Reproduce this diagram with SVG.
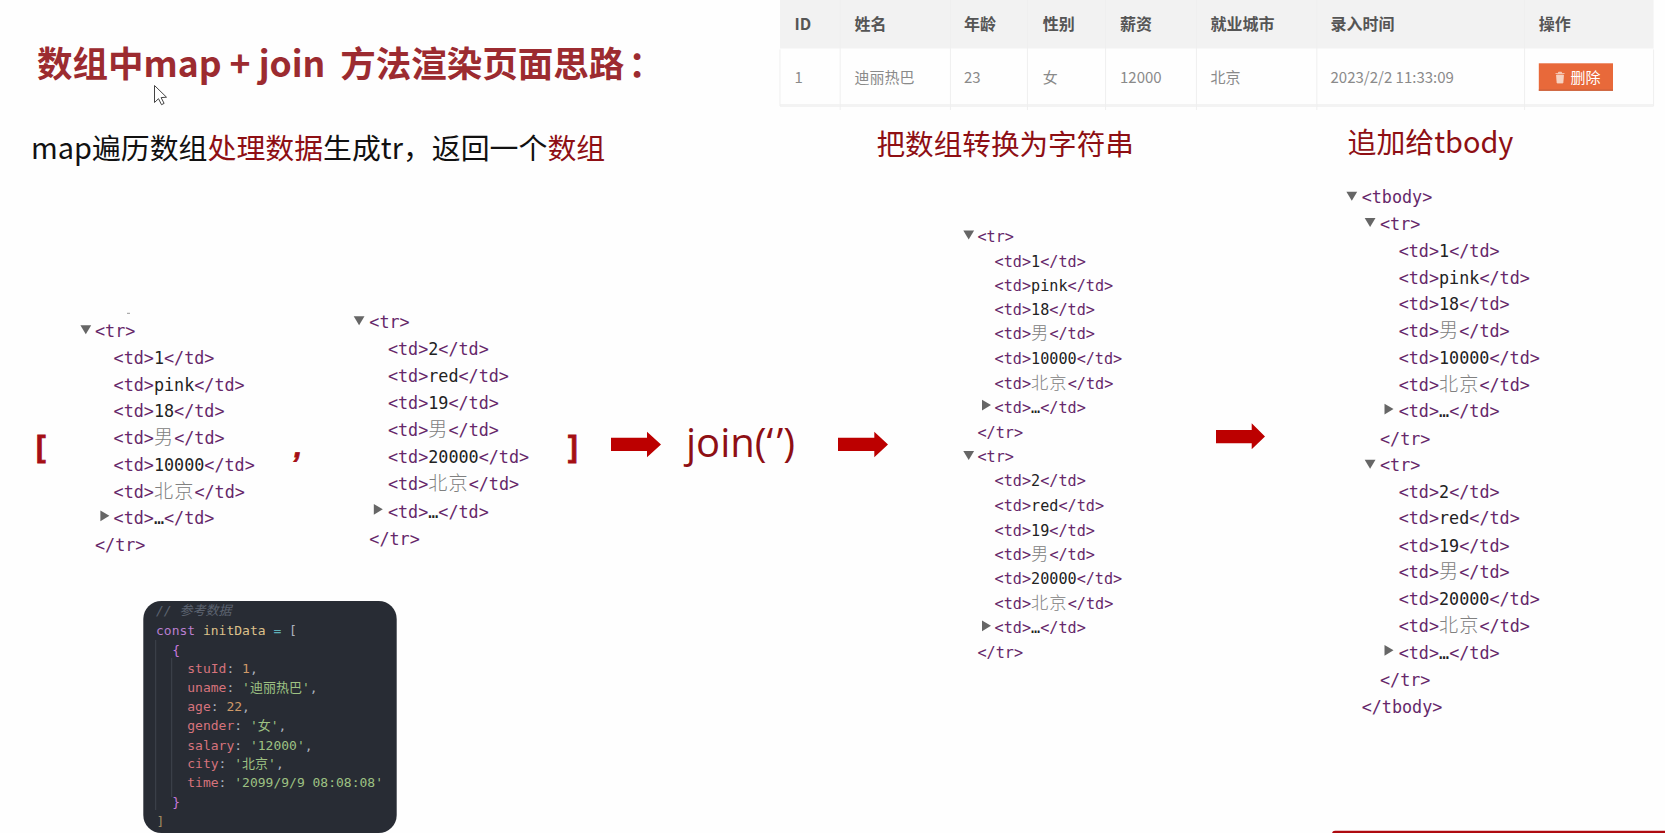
<svg xmlns="http://www.w3.org/2000/svg" width="1665" height="833" viewBox="0 0 1665 833">
<style>
text{white-space:pre}
.s{font-family:"Noto Sans CJK SC","Noto Sans",sans-serif}
.m{font-family:"DejaVu Sans Mono","Noto Sans CJK SC",monospace;fill:#66286a}
.f1{font-size:16.75px}.f2{font-size:15.15px}
.v{fill:#222}
.c{fill:#808080;font-size:1.14em;letter-spacing:.06em;font-family:"Noto Sans CJK SC",sans-serif;font-weight:300}
.r{fill:#8e0f14}
.arrow{fill:#bc0000}
.tri{fill:#666}
.th{font-size:16px;font-weight:700;fill:#555}
.td{font-size:15px;fill:#8a8a8a}
.ln{stroke:#efefef;stroke-width:1;fill:none}
.k{font-family:"DejaVu Sans Mono","Noto Sans CJK SC",monospace;font-size:13px;fill:#abb2bf}
.cm{fill:#5c6370;font-style:italic}.kw{fill:#b87fd0}.id{fill:#dcc08a}.op{fill:#5fb0b8}.br{fill:#c678dd}
.ky{fill:#d6737c}.nu{fill:#cf9a68}.st{fill:#9ec283}
.bk{font-family:"Liberation Sans",sans-serif;font-weight:700;font-size:29px;fill:#a50f14;stroke:#a50f14;stroke-width:.8}
</style>
<defs>
<polygon id="d" class="tri" points="-.3,0 10.500,0 5.100,9"/>
<polygon id="rt" class="tri" points="0,-.3 9,5 0,10.500"/>
</defs>
<rect width="1665" height="833" fill="#fefefe"/>

<g id="title">
<text class="s" x="37" y="77" font-size="35.5" font-weight="700" fill="#9c2b30">数组中map + join <tspan dx="7">方法渲染页面思路</tspan><tspan dx="4">：</tspan></text>
<path d="M154.500 85.500v17l4-3.800 3 6 2.600-1.300-3-5.800 5.400-.4z" fill="#fff" stroke="#444" stroke-width="1"/>
</g>
<g id="subtitle">
<text class="s" x="31" y="159" font-size="28.900" fill="#111">map遍历数组<tspan class="r">处理数据</tspan>生成tr，返回一个<tspan class="r">数组</tspan></text>
</g>

<g id="table">
<rect x="780" y="0" width="873.600" height="48.500" fill="#f2f2f2"/>
<rect x="780" y="104" width="873.600" height="3" fill="#f3f3f3"/>
<path class="ln" d="M840.200 0V110M950.400 0V110M1027.400 0V110M1105.600 0V110M1196.400 0V110M1316.800 0V110M1524.600 0V110M780 49.500V106M1653.600 49.500V106"/>
<g class="s">
<text class="th" x="794.500" y="29.500">ID</text>
<text class="th" x="854.500" y="29.500">姓名</text>
<text class="th" x="964" y="29.500">年龄</text>
<text class="th" x="1042.800" y="29.500">性别</text>
<text class="th" x="1120" y="29.500">薪资</text>
<text class="th" x="1210.600" y="29.500">就业城市</text>
<text class="th" x="1330.500" y="29.500">录入时间</text>
<text class="th" x="1538.800" y="29.500">操作</text>
<text class="td" x="794.500" y="83">1</text>
<text class="td" x="854.500" y="83">迪丽热巴</text>
<text class="td" x="964" y="83">23</text>
<text class="td" x="1042.800" y="83">女</text>
<text class="td" x="1120" y="83">12000</text>
<text class="td" x="1210.600" y="83">北京</text>
<text class="td" x="1330.500" y="83">2023/2/2 11:33:09</text>
</g>
<rect x="1538.800" y="63.300" width="74.200" height="27.400" fill="#e8693a"/>
<rect x="1538.800" y="89.500" width="74.200" height="1.300" fill="#c9603a"/>
<path d="M1555.500 73.500h9M1558.500 73.500v-1.300h3v1.300M1556.500 75h7l-.6 8h-5.800z" fill="#f6d2c2" stroke="#f6d2c2" stroke-width=".8"/>
<text class="s" x="1570.500" y="82.500" font-size="15" fill="#fff">删除</text>
</g>

<g id="label-join"><text class="s r" x="876.500" y="154.800" font-size="28.600">把数组转换为字符串</text></g>
<g id="label-append"><text class="s r" x="1347.500" y="153" font-size="28.900">追加给tbody</text></g>

<g id="array-tokens">
<text class="bk" x="36" y="457">[</text>
<text class="bk" x="294" y="457" font-style="italic">,</text>
<text class="bk" x="568" y="457">]</text>
</g>

<g id="tr-1" class="f1" transform="translate(0 .8)">
<rect x="127" y="312" width="3" height="1" fill="#999"/>
<use href="#d" x="80.700" y="324.500"/>
<text class="m" x="95" y="336">&lt;tr&gt;</text>
<text class="m" x="113.600" y="363.700">&lt;td&gt;<tspan class="v">1</tspan>&lt;/td&gt;</text>
<text class="m" x="113.600" y="390.300">&lt;td&gt;<tspan class="v">pink</tspan>&lt;/td&gt;</text>
<text class="m" x="113.600" y="416.700">&lt;td&gt;<tspan class="v">18</tspan>&lt;/td&gt;</text>
<text class="m" x="113.600" y="443.300">&lt;td&gt;<tspan class="c">男</tspan>&lt;/td&gt;</text>
<text class="m" x="113.600" y="470.300">&lt;td&gt;<tspan class="v">10000</tspan>&lt;/td&gt;</text>
<text class="m" x="113.600" y="497">&lt;td&gt;<tspan class="c">北京</tspan>&lt;/td&gt;</text>
<use href="#rt" x="100.400" y="510"/>
<text class="m" x="113.600" y="523.300">&lt;td&gt;<tspan class="v">…</tspan>&lt;/td&gt;</text>
<text class="m" x="95" y="550.700">&lt;/tr&gt;</text>
</g>

<g id="tr-2" class="f1" transform="translate(0 .8)">
<use href="#d" x="354" y="315.500"/>
<text class="m" x="369.300" y="327.300">&lt;tr&gt;</text>
<text class="m" x="387.900" y="354.300">&lt;td&gt;<tspan class="v">2</tspan>&lt;/td&gt;</text>
<text class="m" x="387.900" y="381.300">&lt;td&gt;<tspan class="v">red</tspan>&lt;/td&gt;</text>
<text class="m" x="387.900" y="408">&lt;td&gt;<tspan class="v">19</tspan>&lt;/td&gt;</text>
<text class="m" x="387.900" y="435.300">&lt;td&gt;<tspan class="c">男</tspan>&lt;/td&gt;</text>
<text class="m" x="387.900" y="462.300">&lt;td&gt;<tspan class="v">20000</tspan>&lt;/td&gt;</text>
<text class="m" x="387.900" y="489.300">&lt;td&gt;<tspan class="c">北京</tspan>&lt;/td&gt;</text>
<use href="#rt" x="373.800" y="503.500"/>
<text class="m" x="387.900" y="517">&lt;td&gt;<tspan class="v">…</tspan>&lt;/td&gt;</text>
<text class="m" x="369.300" y="544">&lt;/tr&gt;</text>
</g>

<g id="join-call"><text class="r" x="686" y="457" font-size="40" font-family="'Open Sans',sans-serif">join(‘<tspan dx="3">’</tspan>)</text></g>

<g id="tr-string" class="f2">
<use href="#d" x="963.600" y="230.500"/>
<text class="m" x="977.500" y="241.700">&lt;tr&gt;</text>
<text class="m" x="994.600" y="266.700">&lt;td&gt;<tspan class="v">1</tspan>&lt;/td&gt;</text>
<text class="m" x="994.600" y="291">&lt;td&gt;<tspan class="v">pink</tspan>&lt;/td&gt;</text>
<text class="m" x="994.600" y="315">&lt;td&gt;<tspan class="v">18</tspan>&lt;/td&gt;</text>
<text class="m" x="994.600" y="339.300">&lt;td&gt;<tspan class="c">男</tspan>&lt;/td&gt;</text>
<text class="m" x="994.600" y="364.300">&lt;td&gt;<tspan class="v">10000</tspan>&lt;/td&gt;</text>
<text class="m" x="994.600" y="388.700">&lt;td&gt;<tspan class="c">北京</tspan>&lt;/td&gt;</text>
<use href="#rt" x="982" y="400"/>
<text class="m" x="994.600" y="413">&lt;td&gt;<tspan class="v">…</tspan>&lt;/td&gt;</text>
<text class="m" x="977.500" y="437.700">&lt;/tr&gt;</text>
<use href="#d" x="963.600" y="451"/>
<text class="m" x="977.500" y="462">&lt;tr&gt;</text>
<text class="m" x="994.600" y="486.300">&lt;td&gt;<tspan class="v">2</tspan>&lt;/td&gt;</text>
<text class="m" x="994.600" y="510.700">&lt;td&gt;<tspan class="v">red</tspan>&lt;/td&gt;</text>
<text class="m" x="994.600" y="535.700">&lt;td&gt;<tspan class="v">19</tspan>&lt;/td&gt;</text>
<text class="m" x="994.600" y="559.700">&lt;td&gt;<tspan class="c">男</tspan>&lt;/td&gt;</text>
<text class="m" x="994.600" y="584">&lt;td&gt;<tspan class="v">20000</tspan>&lt;/td&gt;</text>
<text class="m" x="994.600" y="609">&lt;td&gt;<tspan class="c">北京</tspan>&lt;/td&gt;</text>
<use href="#rt" x="982" y="620.700"/>
<text class="m" x="994.600" y="633.300">&lt;td&gt;<tspan class="v">…</tspan>&lt;/td&gt;</text>
<text class="m" x="977.500" y="657.700">&lt;/tr&gt;</text>
</g>

<g id="tbody" class="f1" transform="translate(0 .8)">
<use href="#d" x="1346.700" y="191"/>
<text class="m" x="1361.700" y="202.700">&lt;tbody&gt;</text>
<use href="#d" x="1365" y="217.300"/>
<text class="m" x="1380" y="229">&lt;tr&gt;</text>
<text class="m" x="1398.700" y="256.700">&lt;td&gt;<tspan class="v">1</tspan>&lt;/td&gt;</text>
<text class="m" x="1398.700" y="283.300">&lt;td&gt;<tspan class="v">pink</tspan>&lt;/td&gt;</text>
<text class="m" x="1398.700" y="309.700">&lt;td&gt;<tspan class="v">18</tspan>&lt;/td&gt;</text>
<text class="m" x="1398.700" y="336.300">&lt;td&gt;<tspan class="c">男</tspan>&lt;/td&gt;</text>
<text class="m" x="1398.700" y="363.300">&lt;td&gt;<tspan class="v">10000</tspan>&lt;/td&gt;</text>
<text class="m" x="1398.700" y="390">&lt;td&gt;<tspan class="c">北京</tspan>&lt;/td&gt;</text>
<use href="#rt" x="1384.500" y="403.300"/>
<text class="m" x="1398.700" y="416.700">&lt;td&gt;<tspan class="v">…</tspan>&lt;/td&gt;</text>
<text class="m" x="1380" y="444">&lt;/tr&gt;</text>
<use href="#d" x="1365" y="459"/>
<text class="m" x="1380" y="470.700">&lt;tr&gt;</text>
<text class="m" x="1398.700" y="497">&lt;td&gt;<tspan class="v">2</tspan>&lt;/td&gt;</text>
<text class="m" x="1398.700" y="523.700">&lt;td&gt;<tspan class="v">red</tspan>&lt;/td&gt;</text>
<text class="m" x="1398.700" y="551">&lt;td&gt;<tspan class="v">19</tspan>&lt;/td&gt;</text>
<text class="m" x="1398.700" y="577.700">&lt;td&gt;<tspan class="c">男</tspan>&lt;/td&gt;</text>
<text class="m" x="1398.700" y="604">&lt;td&gt;<tspan class="v">20000</tspan>&lt;/td&gt;</text>
<text class="m" x="1398.700" y="631.300">&lt;td&gt;<tspan class="c">北京</tspan>&lt;/td&gt;</text>
<use href="#rt" x="1384.500" y="644.500"/>
<text class="m" x="1398.700" y="658">&lt;td&gt;<tspan class="v">…</tspan>&lt;/td&gt;</text>
<text class="m" x="1380" y="685">&lt;/tr&gt;</text>
<text class="m" x="1361.700" y="712">&lt;/tbody&gt;</text>
</g>

<g id="connectors">
<path class="arrow" d="M611 437.700H647V431.700L661 444.500 647 457.300V451H611z"/>
<path class="arrow" d="M838 437.700H874.300V431.700L888 444.500 874.300 457.300V451H838z"/>
<path class="arrow" d="M1216 430H1251.700V423.300L1265 436.500 1251.700 449.300V443.300H1216z"/>
</g>

<g id="code-card">
<rect x="143.300" y="601" width="253.400" height="232" rx="18" fill="#282c34"/>
<path d="M155.700 640V810M171.700 658V797" stroke="#3f444e" stroke-width="1" fill="none"/>
<text class="k cm" x="156" y="615">// 参考数据</text>
<text class="k" x="156" y="634.500"><tspan class="kw">const</tspan> <tspan class="id">initData</tspan> <tspan class="op">=</tspan> [</text>
<text class="k br" x="172.300" y="654.500">{</text>
<text class="k" x="187.300" y="673"><tspan class="ky">stuId</tspan>: <tspan class="nu">1</tspan>,</text>
<text class="k" x="187.300" y="692"><tspan class="ky">uname</tspan>: <tspan class="st">'迪丽热巴'</tspan>,</text>
<text class="k" x="187.300" y="711"><tspan class="ky">age</tspan>: <tspan class="nu">22</tspan>,</text>
<text class="k" x="187.300" y="730"><tspan class="ky">gender</tspan>: <tspan class="st">'女'</tspan>,</text>
<text class="k" x="187.300" y="749.500"><tspan class="ky">salary</tspan>: <tspan class="st">'12000'</tspan>,</text>
<text class="k" x="187.300" y="768"><tspan class="ky">city</tspan>: <tspan class="st">'北京'</tspan>,</text>
<text class="k" x="187.300" y="787"><tspan class="ky">time</tspan>: <tspan class="st">'2099/9/9 08:08:08'</tspan></text>
<text class="k br" x="172.300" y="806.500">}</text>
<text class="k" x="156.500" y="826" style="fill:#a08a60">]</text>
</g>

<rect id="bottom-bar" x="1332" y="830.800" width="340" height="6" rx="3" fill="#ae0a10"/>
</svg>
